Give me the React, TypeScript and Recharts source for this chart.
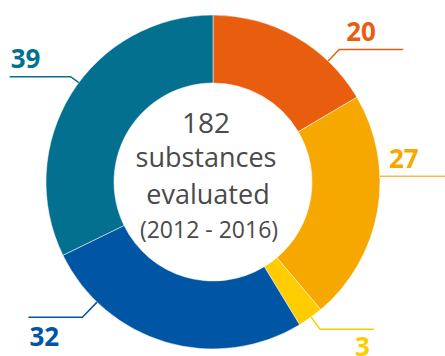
import React from "react";
import { PieChart, Pie, Cell } from "recharts";

const categories = ["A", "B", "C", "D", "E"];
const values = [20, 27, 3, 32, 39];
const colors = ["#E95D0F", "#F6A800", "#FFCC00", "#0055A4", "#03708F"];
const lineColors = ["#E95D0F", "#F8BA45", "#FFCC00", "#0055A4", "#03708F"];
const centerLines = ["182", "substances", "evaluated", "(2012 - 2016)"];

// label layout: anchor angle on outer edge (deg), radial extension to elbow,
// horizontal line length, text anchor point offsets relative to elbow
const labelLayout = [
  { angle: 46.4, ext: 16, endDx: 64, tx: 7, ty: -8, anchor: "start" },
  { angle: 2.0, ext: 1, endDx: 70, tx: 8, ty: -8, anchor: "start" },
  { angle: -54, ext: 15, endDx: 54, tx: 50, ty: 27, anchor: "end" },
  { angle: -134, ext: 21, endDx: -54, tx: -53, ty: 29, anchor: "start" },
  { angle: 143.5, ext: 10, endDx: -61, tx: -60, ty: -9, anchor: "start" },
];

const data = categories.map((c, i) => ({ name: c, value: values[i] }));

const RAD = Math.PI / 180;

const renderLabel = (props: any) => {
  const { cx, cy, outerRadius, index, value } = props;
  const L = labelLayout[index];
  const a = L.angle * RAD;
  const sx = cx + outerRadius * Math.cos(a);
  const sy = cy - outerRadius * Math.sin(a);
  const ex = cx + (outerRadius + L.ext) * Math.cos(a);
  const ey = cy - (outerRadius + L.ext) * Math.sin(a);
  const hx = ex + L.endDx;
  return (
    <g>
      <polyline
        points={`${sx},${sy} ${ex},${ey} ${hx},${ey}`}
        fill="none"
        stroke={lineColors[index]}
        strokeWidth={1.5}
      />
      <text
        x={ex + L.tx}
        y={ey + L.ty}
        textAnchor={L.anchor}
        fill={colors[index]}
        fontFamily="'Open Sans', sans-serif"
        fontWeight={700}
        fontSize={26}
      >
        {value}
      </text>
    </g>
  );
};

export default function App() {
  return (
    <div style={{ position: "absolute", left: 0, top: 0, width: 445, height: 356, background: "#fff" }}>
      <PieChart width={445} height={356} margin={{ top: 0, right: 0, bottom: 0, left: 0 }}>
        <Pie
          data={data}
          dataKey="value"
          cx={213}
          cy={182}
          innerRadius={99}
          outerRadius={167}
          startAngle={90}
          endAngle={-270}
          stroke="#ffffff"
          strokeWidth={0.5}
          label={renderLabel}
          labelLine={false}
          isAnimationActive={false}
        >
          {data.map((d, i) => (
            <Cell key={d.name} fill={colors[i]} />
          ))}
        </Pie>
        <text x={206} y={133} textAnchor="middle" fill="#4a4a4a" fontFamily="'Open Sans', sans-serif" fontSize={28}>
          {centerLines[0]}
        </text>
        <text x={206} y={167} textAnchor="middle" fill="#4a4a4a" fontFamily="'Open Sans', sans-serif" fontSize={27}>
          {centerLines[1]}
        </text>
        <text x={208} y={204} textAnchor="middle" fill="#4a4a4a" fontFamily="'Open Sans', sans-serif" fontSize={27}>
          {centerLines[2]}
        </text>
        <text x={209} y={238} textAnchor="middle" fill="#4a4a4a" fontFamily="'Open Sans', sans-serif" fontSize={23}>
          {centerLines[3]}
        </text>
      </PieChart>
    </div>
  );
}
